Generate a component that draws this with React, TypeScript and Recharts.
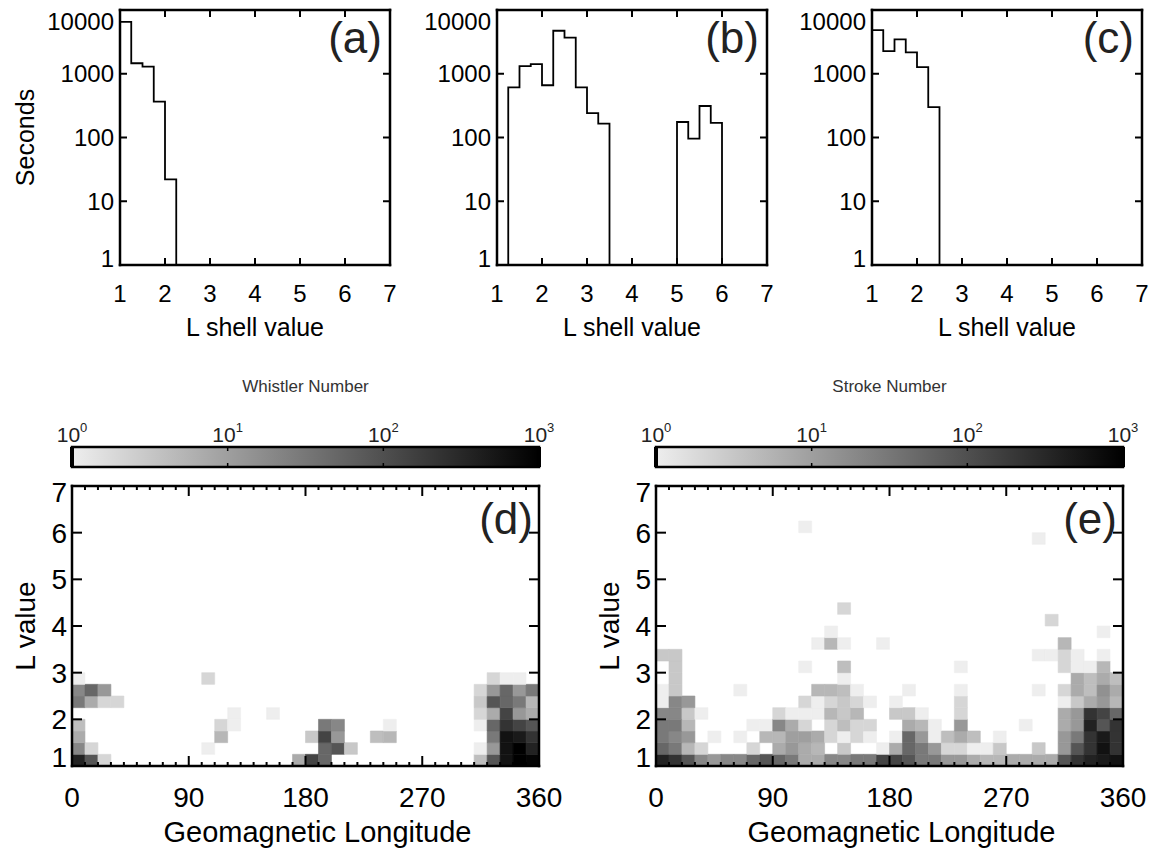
import React from "react";
import {
  LineChart,
  Line,
  ComposedChart,
  Scatter,
  XAxis,
  YAxis,
  ReferenceArea,
} from "recharts";

const FONT = '"Liberation Sans", Arial, Helvetica, sans-serif';

/* ── top row: seconds per 0.25-wide L shell bin ── */
const lShellBinStarts = [
  1, 1.25, 1.5, 1.75, 2, 2.25, 2.5, 2.75, 3, 3.25, 3.5, 3.75,
  4, 4.25, 4.5, 4.75, 5, 5.25, 5.5, 5.75, 6, 6.25, 6.5, 6.75,
];
const lShellEnd = 7;
const lShellTicks = [1, 2, 3, 4, 5, 6, 7];
const secondsTicks = [1, 10, 100, 1000, 10000];

const secondsA = [6500, 1460, 1290, 365, 22, 0, 0, 0, 0, 0, 0, 0, 0, 0, 0, 0, 0, 0, 0, 0, 0, 0, 0, 0];
const secondsB = [0, 612, 1320, 1420, 660, 4730, 3680, 612, 242, 165, 0, 0, 0, 0, 0, 0, 175, 96, 312, 170, 0, 0, 0, 0];
const secondsC = [4850, 2260, 3470, 2170, 1270, 300, 0, 0, 0, 0, 0, 0, 0, 0, 0, 0, 0, 0, 0, 0, 0, 0, 0, 0];

/* ── bottom row: counts per 10° longitude x 0.25 L cell ── */
const lonBinStarts = [
  0, 10, 20, 30, 40, 50, 60, 70, 80, 90, 100, 110,
  120, 130, 140, 150, 160, 170, 180, 190, 200, 210, 220, 230,
  240, 250, 260, 270, 280, 290, 300, 310, 320, 330, 340, 350,
];
const lonBinWidth = 10;
const lBinHeight = 0.25;
const lonTicks = [
  0, 10, 20, 30, 40, 50, 60, 70, 80, 90, 100, 110, 120, 130, 140, 150, 160, 170, 180,
  190, 200, 210, 220, 230, 240, 250, 260, 270, 280, 290, 300, 310, 320, 330, 340, 350, 360,
];
const lonLabelled = [0, 90, 180, 270, 360];
const lValueTicks = [1, 2, 3, 4, 5, 6, 7];
const colorTicks = [1, 10, 100, 1000];

// rows from L = 1.00 upward; columns 0°..350°
const whistlerRows = [
  [370, 85, 2, 0, 0, 0, 0, 0, 0, 0, 0, 0, 0, 0, 0, 0, 0, 7, 140, 50, 0, 0, 0, 0, 0, 0, 0, 0, 0, 0, 0, 4, 85, 600, 1000, 900],
  [20, 2, 0, 0, 0, 0, 0, 0, 0, 0, 1, 0, 0, 0, 0, 0, 0, 0, 0, 50, 85, 3, 0, 0, 0, 0, 0, 0, 0, 0, 0, 1, 12, 600, 1000, 370],
  [7, 0, 0, 0, 0, 0, 0, 0, 0, 0, 0, 5, 0, 0, 0, 0, 0, 0, 3, 140, 12, 0, 0, 4, 5, 0, 0, 0, 0, 0, 0, 0, 30, 600, 470, 230],
  [4, 0, 0, 0, 0, 0, 0, 0, 0, 0, 0, 2, 1, 0, 0, 0, 0, 0, 0, 30, 20, 0, 0, 0, 1, 0, 0, 0, 0, 0, 0, 1, 50, 230, 140, 85],
  [0, 0, 0, 0, 0, 0, 0, 0, 0, 0, 0, 0, 1, 0, 0, 1, 0, 0, 0, 0, 0, 0, 0, 0, 0, 0, 0, 0, 0, 0, 0, 2, 7, 140, 12, 7],
  [30, 7, 2, 2, 0, 0, 0, 0, 0, 0, 0, 0, 0, 0, 0, 0, 0, 0, 0, 0, 0, 0, 0, 0, 0, 0, 0, 0, 0, 0, 0, 3, 85, 50, 30, 5],
  [20, 50, 12, 0, 0, 0, 0, 0, 0, 0, 0, 0, 0, 0, 0, 0, 0, 0, 0, 0, 0, 0, 0, 0, 0, 0, 0, 0, 0, 0, 0, 2, 12, 50, 12, 30],
  [1, 0, 0, 0, 0, 0, 0, 0, 0, 0, 2, 0, 0, 0, 0, 0, 0, 0, 0, 0, 0, 0, 0, 0, 0, 0, 0, 0, 0, 0, 0, 0, 2, 1, 1, 0],
];

const strokeRows = [
  [370, 230, 85, 20, 12, 20, 20, 50, 85, 50, 30, 7, 7, 20, 20, 30, 30, 140, 140, 85, 30, 30, 12, 12, 7, 5, 5, 7, 7, 7, 7, 85, 230, 370, 470, 600],
  [50, 30, 5, 2, 0, 0, 0, 2, 0, 7, 12, 7, 5, 0, 3, 0, 0, 1, 7, 50, 30, 12, 2, 2, 1, 1, 3, 0, 0, 3, 0, 12, 85, 230, 600, 230],
  [30, 20, 12, 0, 1, 0, 1, 0, 5, 5, 10, 10, 7, 2, 1, 2, 1, 0, 1, 50, 12, 1, 4, 7, 4, 0, 1, 0, 0, 0, 0, 12, 30, 230, 470, 230],
  [30, 30, 5, 0, 0, 0, 0, 1, 1, 20, 7, 2, 0, 2, 4, 2, 2, 0, 0, 7, 5, 1, 0, 12, 0, 0, 0, 0, 1, 0, 0, 7, 12, 370, 85, 230],
  [20, 20, 3, 1, 0, 0, 0, 0, 0, 2, 1, 1, 1, 5, 3, 5, 0, 0, 3, 3, 1, 0, 0, 2, 0, 0, 0, 0, 0, 0, 0, 7, 12, 230, 140, 50],
  [1, 20, 12, 0, 0, 0, 0, 0, 0, 0, 0, 2, 1, 2, 3, 2, 1, 0, 1, 0, 0, 0, 0, 2, 0, 0, 0, 0, 0, 0, 0, 1, 3, 7, 12, 5],
  [1, 3, 0, 0, 0, 0, 1, 0, 0, 0, 0, 0, 5, 5, 4, 1, 0, 0, 0, 1, 0, 0, 0, 1, 0, 0, 0, 0, 0, 1, 0, 2, 7, 4, 15, 7],
  [0, 3, 0, 0, 0, 0, 0, 0, 0, 0, 0, 0, 0, 0, 1, 0, 0, 0, 0, 0, 0, 0, 0, 0, 0, 0, 0, 0, 0, 0, 0, 0, 7, 4, 7, 4],
  [0, 3, 0, 0, 0, 0, 0, 0, 0, 0, 0, 1, 0, 0, 4, 0, 0, 0, 0, 0, 0, 0, 0, 1, 0, 0, 0, 0, 0, 0, 0, 2, 1, 1, 5, 0],
  [3, 3, 0, 0, 0, 0, 0, 0, 0, 0, 0, 0, 0, 0, 0, 0, 0, 0, 0, 0, 0, 0, 0, 0, 0, 0, 0, 0, 0, 1, 1, 2, 1, 0, 1, 0],
];
// sparse cells higher up: [lon bin, L bin, count]
const strokeUpperCells: [number, number, number][] = [
  [12, 10, 1], [13, 10, 5], [14, 10, 1], [17, 10, 1], [31, 10, 5],
  [13, 11, 1], [34, 11, 1],
  [30, 12, 2],
  [14, 13, 2],
  [29, 19, 1],
  [11, 20, 1],
];

/* ── helpers ── */
const FRAME = { stroke: "#000", strokeWidth: 2.5, strokeLinecap: "square" as const };

function grayFor(count: number) {
  const g = Math.round(238 * (1 - Math.min(Math.log10(count), 3) / 3));
  return `rgb(${g},${g},${g})`;
}

type Edge = "bottom" | "top" | "left" | "right";
const DIR: Record<Edge, [number, number]> = {
  bottom: [0, -1],
  top: [0, 1],
  left: [1, 0],
  right: [-1, 0],
};

function edgeTick(
  edge: Edge,
  o: {
    len: (v: number) => number;
    label?: (v: number) => boolean;
    gap?: number;
    size?: number;
    shift?: (v: number) => number;
  }
) {
  return (p: any) => {
    const v = p.payload.value as number;
    const len = o.len(v);
    const [dx, dy] = DIR[edge];
    const show = o.label ? o.label(v) : false;
    const shift = o.shift ? o.shift(v) : 0;
    return (
      <g>
        {len > 0 && (
          <line x1={p.x} y1={p.y} x2={p.x + dx * len} y2={p.y + dy * len} stroke="#000" strokeWidth={2} />
        )}
        {show && edge === "bottom" && (
          <text x={p.x} y={p.y + (o.gap ?? 0)} dy="0.36em" textAnchor="middle" fontSize={o.size} fontFamily={FONT} fill="#000">
            {v}
          </text>
        )}
        {show && edge === "left" && (
          <text x={p.x - (o.gap ?? 0)} y={p.y + shift} dy="0.36em" textAnchor="end" fontSize={o.size} fontFamily={FONT} fill="#000">
            {v}
          </text>
        )}
      </g>
    );
  };
}

/* ── histogram panels ── */
const H_W = 270;
const H_H = 255;
const H_TOP = 10;
const H_YW = 115;
const H_XH = 90;
const H_RIGHT = 20;

function Histogram({
  values,
  letter,
  plotLeft,
  yTitle,
}: {
  values: number[];
  letter: string;
  plotLeft: number;
  yTitle?: string;
}) {
  const steps = lShellBinStarts.map((l, i) => ({ l, s: Math.max(values[i], 1) }));
  steps.push({ l: lShellEnd, s: 1 });
  const inner = (v: number) => (v === 1 || v === 7 ? 0 : 7);
  const innerY = (v: number) => (v === 1 || v === 10000 ? 0 : 7);

  return (
    <div style={{ position: "absolute", left: plotLeft - H_YW, top: 0 }}>
      <LineChart
        width={H_YW + H_W + H_RIGHT}
        height={H_TOP + H_H + H_XH}
        data={steps}
        margin={{ top: H_TOP - 1, right: H_RIGHT - 1, bottom: 0, left: 0 }}
      >
        <Line
          xAxisId="b"
          yAxisId="l"
          dataKey="s"
          type="stepAfter"
          stroke="#000"
          strokeWidth={1.8}
          dot={false}
          isAnimationActive={false}
        />
        <Line xAxisId="t" yAxisId="r" dataKey="s" stroke="none" dot={false} isAnimationActive={false} />
        <XAxis
          xAxisId="b"
          dataKey="l"
          type="number"
          domain={[1, 7]}
          allowDataOverflow
          ticks={lShellTicks}
          interval={0}
          height={H_XH}
          axisLine={FRAME}
          tickLine={false}
          tickSize={0}
          tickMargin={0}
          tick={edgeTick("bottom", { len: inner, label: () => true, gap: 28, size: 24 })}
          label={(p: any) => {
            const vb = p.viewBox;
            return (
              <text x={vb.x + vb.width / 2} y={vb.y + 62} dy="0.36em" textAnchor="middle" fontSize={25} fontFamily={FONT} fill="#000">
                L shell value
              </text>
            );
          }}
        />
        <XAxis
          xAxisId="t"
          dataKey="l"
          type="number"
          orientation="top"
          height={1}
          domain={[1, 7]}
          allowDataOverflow
          ticks={lShellTicks}
          interval={0}
          axisLine={FRAME}
          tickLine={false}
          tickSize={0}
          tickMargin={0}
          tick={edgeTick("top", { len: inner })}
        />
        <YAxis
          yAxisId="l"
          type="number"
          scale="log"
          domain={[1, 10000]}
          allowDataOverflow
          ticks={secondsTicks}
          interval={0}
          width={H_YW}
          axisLine={FRAME}
          tickLine={false}
          tickSize={0}
          tickMargin={0}
          tick={edgeTick("left", {
            len: innerY,
            label: () => true,
            gap: 6,
            size: 24,
            shift: (v) => (v === 10000 ? 11 : v === 1 ? -7 : 0),
          })}
          label={(p: any) => {
            if (!yTitle) return null;
            const vb = p.viewBox;
            const cx = vb.x + vb.width - 95;
            const cy = vb.y + vb.height / 2;
            return (
              <text x={cx} y={cy} dy="0.36em" textAnchor="middle" transform={`rotate(-90 ${cx} ${cy})`} fontSize={25} fontFamily={FONT} fill="#000">
                {yTitle}
              </text>
            );
          }}
        />
        <YAxis
          yAxisId="r"
          type="number"
          scale="log"
          orientation="right"
          width={1}
          domain={[1, 10000]}
          allowDataOverflow
          ticks={secondsTicks}
          interval={0}
          axisLine={FRAME}
          tickLine={false}
          tickSize={0}
          tickMargin={0}
          tick={edgeTick("right", { len: innerY })}
          label={(p: any) => {
            const vb = p.viewBox;
            return (
              <text x={vb.x - 8} y={vb.y + 43} textAnchor="end" fontSize={44} fontFamily={FONT} fill="#222">
                {letter}
              </text>
            );
          }}
        />
      </LineChart>
    </div>
  );
}

/* ── longitude / L maps ── */
const M_W = 467;
const M_H = 280;
const M_TOP = 476;
const M_YW = 72;
const M_XH = 90;
const M_RIGHT = 29;

function LonLMap({
  rows,
  extra,
  letter,
  plotLeft,
}: {
  rows: number[][];
  extra: [number, number, number][];
  letter: string;
  plotLeft: number;
}) {
  const cells: { lon: number; l: number; c: number }[] = [];
  rows.forEach((row, li) =>
    row.forEach((c, oi) => {
      if (c > 0) cells.push({ lon: lonBinStarts[oi], l: lShellBinStarts[li], c });
    })
  );
  extra.forEach(([oi, li, c]) => cells.push({ lon: lonBinStarts[oi], l: lShellBinStarts[li], c }));

  const lonLen = (v: number) => (v === 0 || v === 360 ? 0 : lonLabelled.includes(v) ? 10 : 4);
  const lLen = (v: number) => (v === 1 || v === 7 ? 0 : 10);

  return (
    <div style={{ position: "absolute", left: plotLeft - M_YW, top: M_TOP }}>
      <ComposedChart
        width={M_YW + M_W + M_RIGHT}
        height={10 + M_H + M_XH}
        margin={{ top: 9, right: M_RIGHT - 1, bottom: 0, left: 0 }}
      >
        {cells.map((d, i) => (
          <ReferenceArea
            key={i}
            xAxisId="b"
            yAxisId="l"
            x1={d.lon}
            x2={d.lon + lonBinWidth}
            y1={d.l}
            y2={d.l + lBinHeight}
            fill={grayFor(d.c)}
            fillOpacity={1}
            stroke={grayFor(d.c)}
            strokeWidth={0.6}
          />
        ))}
        <Scatter xAxisId="b" yAxisId="l" data={cells} dataKey="l" shape={() => <g />} isAnimationActive={false} />
        <Scatter xAxisId="t" yAxisId="r" data={cells} dataKey="l" shape={() => <g />} isAnimationActive={false} />
        <XAxis
          xAxisId="b"
          dataKey="lon"
          type="number"
          domain={[0, 360]}
          allowDataOverflow
          ticks={lonTicks}
          interval={0}
          height={M_XH}
          axisLine={FRAME}
          tickLine={false}
          tickSize={0}
          tickMargin={0}
          tick={edgeTick("bottom", { len: lonLen, label: (v) => lonLabelled.includes(v), gap: 31, size: 28 })}
          label={(p: any) => {
            const vb = p.viewBox;
            return (
              <text x={vb.x + vb.width / 2 + 12} y={vb.y + 66} dy="0.36em" textAnchor="middle" fontSize={29} fontFamily={FONT} fill="#000">
                Geomagnetic Longitude
              </text>
            );
          }}
        />
        <XAxis
          xAxisId="t"
          dataKey="lon"
          type="number"
          orientation="top"
          height={1}
          domain={[0, 360]}
          allowDataOverflow
          ticks={lonTicks}
          interval={0}
          axisLine={FRAME}
          tickLine={false}
          tickSize={0}
          tickMargin={0}
          tick={edgeTick("top", { len: lonLen })}
        />
        <YAxis
          yAxisId="l"
          dataKey="l"
          type="number"
          domain={[1, 7]}
          allowDataOverflow
          ticks={lValueTicks}
          interval={0}
          width={M_YW}
          axisLine={FRAME}
          tickLine={false}
          tickSize={0}
          tickMargin={0}
          tick={edgeTick("left", {
            len: lLen,
            label: () => true,
            gap: 5,
            size: 28,
            shift: (v) => (v === 7 ? 6 : v === 1 ? -9 : 0),
          })}
          label={(p: any) => {
            const vb = p.viewBox;
            const cx = vb.x + vb.width - 47;
            const cy = vb.y + vb.height / 2;
            return (
              <text x={cx} y={cy} dy="0.36em" textAnchor="middle" transform={`rotate(-90 ${cx} ${cy})`} fontSize={28} fontFamily={FONT} fill="#000">
                L value
              </text>
            );
          }}
        />
        <YAxis
          yAxisId="r"
          dataKey="l"
          type="number"
          orientation="right"
          width={1}
          domain={[1, 7]}
          allowDataOverflow
          ticks={lValueTicks}
          interval={0}
          axisLine={FRAME}
          tickLine={false}
          tickSize={0}
          tickMargin={0}
          tick={edgeTick("right", { len: lLen })}
          label={(p: any) => {
            const vb = p.viewBox;
            return (
              <text x={vb.x - 6} y={vb.y + 48} textAnchor="end" fontSize={44} fontFamily={FONT} fill="#222">
                {letter}
              </text>
            );
          }}
        />
      </ComposedChart>
    </div>
  );
}

/* ── colour bars ── */
const CB_TOP = 367;
const CB_XH = 80;
const CB_H = 20;

function ColorBar({ plotLeft, title, gradId }: { plotLeft: number; title: string; gradId: string }) {
  const ends = [
    { v: colorTicks[0], y: 0 },
    { v: colorTicks[colorTicks.length - 1], y: 1 },
  ];
  const inner = (v: number) => (v === 1 || v === 1000 ? 0 : 4);
  return (
    <div style={{ position: "absolute", left: plotLeft - M_YW, top: CB_TOP }}>
      <ComposedChart
        width={M_YW + M_W + M_RIGHT}
        height={CB_XH + CB_H + 10}
        margin={{ top: 0, right: M_RIGHT, bottom: 9, left: M_YW }}
      >
        <defs>
          <linearGradient id={gradId} x1="0" y1="0" x2="1" y2="0">
            <stop offset="0%" stopColor={grayFor(1)} />
            <stop offset="100%" stopColor={grayFor(1000)} />
          </linearGradient>
        </defs>
        <ReferenceArea
          xAxisId="t"
          yAxisId="y"
          x1={1}
          x2={1000}
          y1={0}
          y2={1}
          fill={`url(#${gradId})`}
          fillOpacity={1}
          stroke="#000"
          strokeWidth={2.5}
        />
        <Scatter xAxisId="t" yAxisId="y" data={ends} dataKey="y" shape={() => <g />} isAnimationActive={false} />
        <Scatter xAxisId="b" yAxisId="y" data={ends} dataKey="y" shape={() => <g />} isAnimationActive={false} />
        <YAxis yAxisId="y" type="number" domain={[0, 1]} hide />
        <XAxis
          xAxisId="t"
          dataKey="v"
          type="number"
          scale="log"
          orientation="top"
          domain={[1, 1000]}
          allowDataOverflow
          ticks={colorTicks}
          interval={0}
          height={CB_XH}
          axisLine={false}
          tickLine={false}
          tickSize={0}
          tickMargin={0}
          tick={(p: any) => {
            const v = p.payload.value as number;
            const len = inner(v);
            return (
              <g>
                {len > 0 ? (
                  <line x1={p.x} y1={p.y} x2={p.x} y2={p.y + len} stroke="#000" strokeWidth={1.5} />
                ) : (
                  <line x1={p.x} y1={p.y} x2={p.x} y2={p.y + CB_H} stroke="#000" strokeWidth={4} />
                )}
                <text x={p.x} y={p.y - 5} textAnchor="middle" fontSize={21} fontFamily={FONT} fill="#222">
                  10
                  <tspan dy={-10} fontSize={13}>
                    {Math.round(Math.log10(v))}
                  </tspan>
                </text>
              </g>
            );
          }}
          label={(p: any) => {
            const vb = p.viewBox;
            return (
              <text x={vb.x + vb.width / 2} y={vb.y + vb.height - 61} dy="0.36em" textAnchor="middle" fontSize={17} fontFamily={FONT} fill="#333">
                {title}
              </text>
            );
          }}
        />
        <XAxis
          xAxisId="b"
          dataKey="v"
          type="number"
          scale="log"
          orientation="bottom"
          height={1}
          domain={[1, 1000]}
          allowDataOverflow
          ticks={colorTicks}
          interval={0}
          axisLine={false}
          tickLine={false}
          tickSize={0}
          tickMargin={0}
          tick={(p: any) => {
            const len = inner(p.payload.value);
            return len > 0 ? <line x1={p.x} y1={p.y} x2={p.x} y2={p.y - len} stroke="#000" strokeWidth={1.5} /> : <g />;
          }}
        />
      </ComposedChart>
    </div>
  );
}

export default function App() {
  return (
    <div style={{ position: "relative", width: 1153, height: 856, background: "#fff", fontFamily: FONT }}>
      <style>{`body{margin:0;background:#fff}`}</style>
      <Histogram values={secondsA} letter="(a)" plotLeft={120} yTitle="Seconds" />
      <Histogram values={secondsB} letter="(b)" plotLeft={497} />
      <Histogram values={secondsC} letter="(c)" plotLeft={872} />
      <ColorBar plotLeft={72} title="Whistler Number" gradId="whistlerGrad" />
      <ColorBar plotLeft={656} title="Stroke Number" gradId="strokeGrad" />
      <LonLMap rows={whistlerRows} extra={[]} letter="(d)" plotLeft={72} />
      <LonLMap rows={strokeRows} extra={strokeUpperCells} letter="(e)" plotLeft={656} />
    </div>
  );
}
